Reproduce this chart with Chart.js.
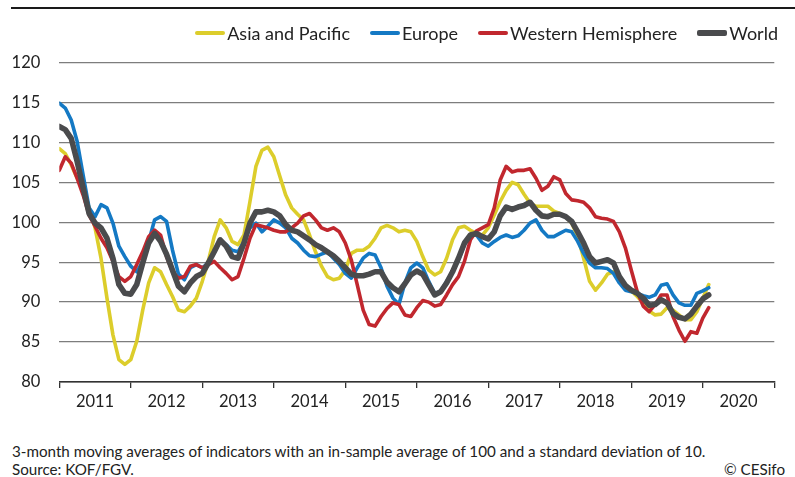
<!DOCTYPE html>
<html>
<head>
<meta charset="utf-8">
<script src="https://cdn.jsdelivr.net/npm/chart.js@4.4.1/dist/chart.umd.min.js"></script>
<style>
  html, body { margin: 0; padding: 0; background: #fff; }
  body { width: 795px; height: 477px; position: relative; overflow: hidden; font-family: Lato, "Open Sans", sans-serif; color: #222; }
  #topline { position: absolute; left: 11px; right: 0; top: 7px; height: 2px; background: #1a1a1a; }
  #wrap { position: absolute; left: 0; top: 0; width: 795px; height: 430px; }
  #legend { position: absolute; top: 22px; right: 17px; display: flex; align-items: center; font-size: 18px; color: #222; white-space: nowrap; }
  #legend .item { display: flex; align-items: center; margin-left: 20px; }
  #legend .sw { display: inline-block; width: 30px; border-radius: 2px; margin-right: 2px; }
  .note { position: absolute; left: 12px; font-size: 15.2px; color: #222; white-space: nowrap; }
  #copy { position: absolute; right: 10px; top: 461px; font-size: 15.2px; color: #222; }
</style>
</head>
<body>
<div id="topline"></div>
<div id="wrap"><canvas id="c" width="795" height="430"></canvas></div>
<div id="legend"></div>
<div class="note" style="top:442px">3-month moving averages of indicators with an in-sample average of 100 and a standard deviation of 10.</div>
<div class="note" style="top:460px">Source: KOF/FGV.</div>
<div id="copy" style="top:460px">© CESifo</div>
<script>
// Year labels (each centred in its year span); months counted from Jan 2011
const years = ['2011','2012','2013','2014','2015','2016','2017','2018','2019','2020'];
const seriesNames = ['Asia and Pacific', 'Europe', 'Western Hemisphere', 'World'];

const asiaPacific = [
  109.2,108.6,107.2,105.5,104.3,101.8,99.3,95.5,90.5,85.9,82.8,82.2,
  82.8,85.1,89.0,92.4,94.3,93.8,92.2,90.7,89.0,88.8,89.5,90.5,
  92.6,95.1,98.2,100.3,99.3,97.6,97.2,98.4,102.6,107.0,109.0,109.4,
  108.2,105.8,103.4,101.8,101.0,100.3,98.4,96.3,94.5,93.2,92.8,93.0,
  94.0,96.1,96.5,96.5,97.0,98.0,99.3,99.6,99.3,98.8,99.0,98.8,
  97.6,95.7,94.0,93.4,93.8,95.5,97.8,99.3,99.5,99.0,98.6,98.4,
  99.3,100.9,102.6,104.0,105.0,104.7,103.5,102.4,102.0,102.0,102.0,101.4,
  101.1,100.7,99.9,98.2,95.5,92.6,91.5,92.4,93.5,93.8,92.8,91.8,
  91.4,90.7,89.9,88.9,88.4,88.5,89.3,89.0,88.4,87.8,87.8,88.8,
  90.5,92.2
];
const europe = [
  114.9,114.3,112.8,110.1,105.9,101.8,100.7,102.2,101.8,99.9,97.0,95.7,
  94.5,93.8,95.1,97.6,100.3,100.7,100.1,96.5,93.5,92.8,94.3,94.7,
  94.3,94.9,96.3,97.8,97.2,96.5,96.3,97.6,99.3,99.9,98.8,99.5,
  100.3,99.9,99.3,98.0,97.4,96.5,95.8,95.7,96.0,96.3,95.5,94.7,
  93.6,93.0,94.3,95.5,96.1,95.9,94.3,92.0,90.5,89.7,92.4,94.3,
  94.9,94.3,92.6,91.1,91.3,92.6,93.8,95.3,97.2,98.4,98.4,97.4,
  97.0,97.6,98.1,98.4,98.1,98.3,99.0,99.9,100.3,99.0,98.2,98.2,
  98.6,99.0,98.8,97.6,96.1,94.9,94.3,94.3,94.2,93.6,92.4,91.5,
  91.3,91.1,90.8,90.6,90.9,92.1,92.3,90.9,89.9,89.6,89.6,91.1,
  91.4,91.8
];
const westernHemisphere = [
  106.5,108.2,107.4,105.5,103.4,100.9,99.5,98.0,96.8,95.1,93.2,92.6,
  93.2,94.7,96.3,98.2,99.0,98.4,95.7,93.8,93.0,93.2,94.5,94.7,
  94.3,94.7,95.1,94.3,93.6,92.8,93.2,95.5,98.0,99.7,99.5,99.3,
  99.0,98.8,98.8,99.3,99.9,100.8,101.1,100.3,99.3,99.0,99.3,98.8,
  97.4,95.3,92.2,89.0,87.2,87.0,88.2,89.2,89.9,89.7,88.4,88.2,
  89.3,90.2,90.0,89.5,89.7,90.9,92.2,93.2,95.1,97.8,98.9,99.3,
  99.7,101.8,105.3,107.0,106.3,106.5,106.5,106.7,105.5,104.0,104.5,105.7,
  105.3,103.6,102.8,102.7,102.5,101.8,100.7,100.5,100.4,100.1,98.8,96.8,
  94.0,91.3,89.5,88.8,89.7,90.9,90.9,88.2,86.5,85.1,86.3,86.1,
  88.0,89.3
];
const world = [
  112.0,111.6,110.5,107.6,104.3,101.1,99.9,99.3,98.0,95.5,92.2,91.1,
  91.0,92.2,94.9,97.4,98.6,97.6,96.0,94.0,92.0,91.3,92.4,93.2,
  93.6,94.9,96.3,97.8,97.0,95.7,95.5,97.4,99.9,101.3,101.3,101.5,
  101.3,100.8,99.7,99.0,98.8,98.3,97.8,97.2,96.8,96.3,95.8,95.1,
  94.3,93.5,93.3,93.3,93.5,93.8,93.8,92.5,91.8,91.3,92.3,93.4,
  93.9,93.5,92.2,90.9,91.3,92.4,93.8,95.5,97.4,98.4,98.6,98.2,
  97.9,98.8,100.8,101.9,101.6,101.9,102.1,102.5,101.5,100.8,100.7,101.0,
  101.0,100.7,100.1,98.8,97.4,95.7,94.9,95.1,95.3,94.9,93.2,92.1,
  91.5,91.1,90.5,89.6,89.7,90.3,89.9,88.6,88.1,87.9,88.5,89.5,
  90.4,90.9
];

const colors = ['#dccd2b', '#1479c4', '#c1272e', '#4a4b4d'];
const widths = [3.6, 3.6, 3.6, 5.6];
const orders = [3, 2, 1, 0];
const allSeries = [asiaPacific, europe, westernHemisphere, world];

const datasets = allSeries.map((arr, k) => ({
  label: seriesNames[k],
  data: arr.map((v, i) => ({ x: i, y: v })),
  borderColor: colors[k],
  backgroundColor: colors[k],
  borderWidth: widths[k],
  pointRadius: 0,
  tension: 0,
  borderJoinStyle: 'round',
  borderCapStyle: 'round',
  order: orders[k]
}));

const FONT = 'Lato, "Open Sans", sans-serif';

const chart = new Chart(document.getElementById('c'), {
  type: 'line',
  data: { datasets },
  options: {
    responsive: false,
    animation: false,
    devicePixelRatio: 1,
    layout: { padding: { left: 12.3, right: 20.7, top: 62.5, bottom: 8 } },
    plugins: { legend: { display: false }, tooltip: { enabled: false }, title: { display: false } },
    scales: {
      x: {
        type: 'linear', min: 0, max: 120,
        afterBuildTicks: (s) => { const t = []; for (let v = 0; v <= 120; v += 6) t.push({ value: v }); s.ticks = t; },
        afterFit: (s) => { s.height = 40; },
        ticks: {
          autoSkip: false, maxRotation: 0, padding: 4,
          color: '#222', font: { family: FONT, size: 16.5 },
          callback: (v) => (v % 12 === 6 ? years[(v - 6) / 12] : '')
        },
        grid: {
          drawOnChartArea: false, drawTicks: true, tickLength: 6, lineWidth: 1.3,
          color: (ctx) => (ctx.tick && ctx.tick.value % 12 === 0 ? '#333' : 'rgba(0,0,0,0)')
        },
        border: { display: true, color: '#333', width: 1.5 }
      },
      y: {
        min: 80, max: 120,
        afterFit: (s) => { s.width = 47; },
        ticks: { stepSize: 5, padding: 19, color: '#222', font: { family: FONT, size: 16.5 } },
        grid: { drawTicks: false, color: (ctx) => (ctx.tick && ctx.tick.value === 80 ? '#333' : '#7d7d7d'), lineWidth: 1.3 },
        border: { display: false }
      }
    }
  }
});

// HTML legend built from chart datasets
const lg = document.getElementById('legend');
chart.data.datasets.forEach((d) => {
  const it = document.createElement('div'); it.className = 'item';
  const sw = document.createElement('span'); sw.className = 'sw';
  sw.style.background = d.borderColor; sw.style.height = (d.borderWidth >= 5 ? 6 : 4) + 'px';
  const tx = document.createElement('span'); tx.textContent = d.label;
  it.appendChild(sw); it.appendChild(tx); lg.appendChild(it);
});
</script>
</body>
</html>
